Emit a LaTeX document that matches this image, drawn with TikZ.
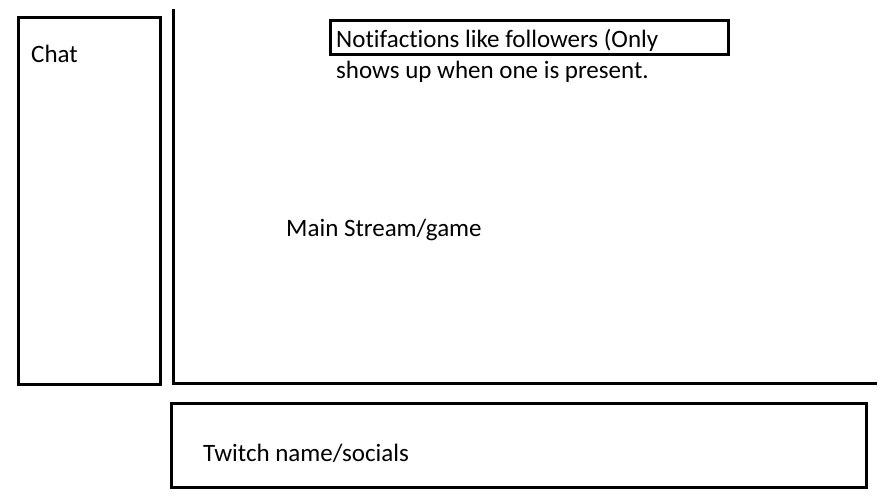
\documentclass[tikz,border=0pt]{standalone}
\usepackage{fontspec}
\setmainfont[Ligatures={NoCommon}]{Carlito}
\begin{document}
\begin{tikzpicture}[x=1pt,y=-1pt]

    \tikzset{
      panel/.style={
        draw,
        line width=3pt,
      },
      label/.style={
        anchor=west,
        inner sep=0pt,
        font=\fontsize{25}{30}\selectfont,
      },
    }
    \useasboundingbox (0,0) rectangle (889,500);
	\draw[panel] (18,18) rectangle (160,384);
	\node[label] (chat) at (31,54) {Chat};
	\coordinate (streamtop) at (173,9);
	\coordinate (streamcorner) at (173,383);
	\coordinate (streamright) at (877,383);
	\draw[panel] (streamtop)--(streamcorner)--(streamright);
	\draw[panel] (330,21) rectangle (728,55);
	\node[label] (notif) at (336,40) {Notifactions like followers (Only};
	\node[label] (notifmore) at (336,72) {shows up when one is present.};
	\node[label] (stream) at (286,230) {Main Stream/game};
	\draw[panel] (171,403) rectangle (866,487);
	\node[label] (socials) at (203,453) {Twitch name/socials};

\end{tikzpicture}
\end{document}
